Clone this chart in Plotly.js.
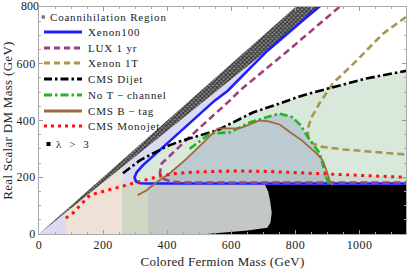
<!DOCTYPE html>
<html><head><meta charset="utf-8">
<script src="https://cdn.plot.ly/plotly-3.0.1.min.js"></script>
<style>
html,body{margin:0;padding:0;background:#fff}#chart{width:407px;height:269px}
.annotation-text{letter-spacing:0.8px}
.xtitle,.ytitle{letter-spacing:0.3px}
.xtick text,.ytick text{letter-spacing:0.4px}
</style>
</head><body><div id="chart"></div>
<script>
// ---- data (GeV) ----
const coannX = [0, 800, 880, 0];
const coannY = [0, 800, 800, 0];

const xenon100X = [872, 800, 713, 650, 589, 548, 445, 380, 324, 305, 298, 302, 315, 340, 1145];
const xenon100Y = [800, 730, 646, 575, 505, 470, 365, 300, 242, 218, 200, 186, 179, 178, 178];

const luxX = [937, 875, 760, 626, 595, 492, 430, 383, 377, 386, 410, 450, 1145];
const luxY = [800, 740, 630, 505, 470, 365, 300, 249, 214, 196, 185, 181, 181];

const x1tX = [1145, 1072, 990, 916, 875, 850, 838, 840, 854, 880, 950, 1050, 1145];
const x1tY = [765, 705, 610, 530, 460, 410, 370, 340, 319, 308, 298, 288, 280];

const dijetX = [262, 293, 315, 400, 449, 555, 667, 751, 813, 912, 1021, 1145];
const dijetY = [214, 242, 260, 310, 330, 365, 428, 460, 485, 516, 548, 575];

const noTX = [470, 492, 533, 595, 657, 729, 751, 790, 815, 840, 876, 896, 906];
const noTY = [300, 319, 354, 358, 393, 418, 424, 412, 385, 340, 284, 200, 172];

const btagX = [308, 336, 370, 408, 460, 511, 558, 626, 688, 713, 751, 776, 820, 866, 885, 898, 906, 916];
const btagY = [137, 154, 185, 214, 265, 319, 372, 372, 400, 398, 386, 365, 330, 284, 260, 220, 189, 172];

const monoX = [84, 106, 159, 212, 252, 305, 330, 380, 430, 500, 600, 700, 800, 900, 1000, 1145];
const monoY = [56, 74, 137, 154, 165, 182, 190, 205, 214, 219, 222, 221, 216, 210, 205, 200];

const lamX = [523, 650, 712, 722, 726, 722, 715, 705, 1145, 1145];
const lamY = [0, 12, 22, 40, 74, 110, 150, 174, 174, 0];

// vertical bands (lower-bound regions)
const bandEdges = [84, 259, 340, 730];
const floorY = 178;
const xMax = 1145, yMax = 800;

const xTicks = [0, 200, 400, 600, 800, 1000];
const yTicks = [0, 200, 400, 600, 800];

const legendLabels = ["Coannihilation Region", "Xenon100", "LUX 1 yr", "Xenon 1T", "CMS Dijet",
  "No T\u2009\u2212\u2009channel", "CMS B\u2009\u2212\u2009tag", "CMS Monojet", "\u03bb  >  3"];

// ---- styles ----
const C = {
  lav: '#dadaf0', beige: '#ede2d5', olive: '#d0d7c3', gray: '#c4c8c4', green: '#d8e9dc',
  btag: '#bccbd0', blue: '#1e1eff', lux: '#9e3f7e', x1t: '#a8964c', dijet: '#000000',
  noT: '#22b422', brown: '#9c6a3c', red: '#ff1010'
};
const FONT = 'Liberation Serif';

const traces = [];
function poly(x, y, color, extra) {
  traces.push(Object.assign({x: x, y: y, mode: 'lines', fill: 'toself', fillcolor: color,
    line: {width: 0, color: color}, hoverinfo: 'skip', showlegend: false}, extra || {}));
}
function line(x, y, color, width, dash) {
  traces.push({x: x, y: y, mode: 'lines', line: {color: color, width: width, dash: dash},
    hoverinfo: 'skip', showlegend: false});
}

// dijet (light green) region
poly(dijetX.concat([xMax, dijetX[0]]), dijetY.concat([floorY, floorY]), C.green);
// Xenon100 excluded (lavender): between diagonal and blue line
poly([0, yMax].concat(xenon100X, [xMax, 0]), [0, yMax].concat(xenon100Y, [0, 0]), C.lav);
// beige band
poly([bandEdges[0], bandEdges[0], bandEdges[1], bandEdges[1]], [0, bandEdges[0], bandEdges[1], 0], C.beige);
// olive band
poly([bandEdges[1], bandEdges[1], bandEdges[2], bandEdges[2]], [0, floorY, floorY, 0], C.olive);
// gray band
poly([bandEdges[2], bandEdges[2], bandEdges[3], bandEdges[3]], [0, floorY, floorY, 0], C.gray);
// B-tag / no-T-channel excluded region (envelope)
(function () {
  const ex = [], ey = [];
  for (let i = 0; i < btagX.length; i++) if (btagX[i] <= 705 && btagY[i] >= floorY) { ex.push(btagX[i]); ey.push(btagY[i]); }
  for (let i = 0; i < noTX.length; i++) if (noTX[i] >= 715) { ex.push(noTX[i]); ey.push(noTY[i]); }
  poly([ex[0]].concat(ex), [floorY].concat(ey), C.btag);
})();
// monojet tint
(function () {
  const mx = [], my = [];
  for (let i = 0; i < monoX.length; i++) if (monoX[i] >= 300) { mx.push(monoX[i]); my.push(monoY[i]); }
  poly(mx.concat([xMax, mx[0]]), my.concat([floorY, floorY]), 'rgba(90,110,100,0.10)');
})();
// lambda > 3
poly(lamX, lamY, '#000000');
// coannihilation band
poly(coannX, coannY, '#606060', {fillpattern: {shape: 'x', size: 3, solidity: 0.5, fgcolor: '#2a2a2a', bgcolor: '#8a8a8a'}});

// curves
line(xenon100X, xenon100Y, C.blue, 2.6, 'solid');
line(luxX, luxY, C.lux, 2.6, '7px,4px');
line(x1tX, x1tY, C.x1t, 2.6, '7px,4px');
line(dijetX, dijetY, C.dijet, 2.6, '9px,3px,2.5px,3px');
line(noTX, noTY, C.noT, 2.6, '8px,3px,2.5px,3px');
line(btagX, btagY, C.brown, 1.8, 'solid');
line(monoX, monoY, C.red, 3, '3px,4.5px');

// top y tick label drawn as an unclipped text mark at the axis corner
const yTopTick = yTicks[yTicks.length - 1];
traces.push({x: [0], y: [yTopTick], mode: 'text', text: [String(yTopTick)], textposition: 'middle left',
  cliponaxis: false, textfont: {family: FONT, size: 12, color: '#222'}, hoverinfo: 'skip', showlegend: false});

// ---- manual legend ----
const L = 39, R = 406, T = 7, B = 234;
const px = X => (X - L) / (R - L), py = Y => (B - Y) / (B - T);
const legY = [17, 32, 48, 63, 79, 95, 111, 126, 144];
const legStyle = [null, [C.blue, 3, 'solid'], [C.lux, 3, '6px,4px'], [C.x1t, 3, '6px,4px'],
  [C.dijet, 3, '8px,3px,2.5px,3px'], [C.noT, 3, '8px,3px,2.5px,3px'], [C.brown, 3, 'solid'],
  [C.red, 3, '3px,4px'], null];
const shapes = [], annotations = [];
legY.forEach((yy, i) => {
  let tx = 86;
  if (legStyle[i]) {
    const s = legStyle[i];
    shapes.push({type: 'line', xref: 'paper', yref: 'paper', x0: px(44), x1: px(82), y0: py(yy), y1: py(yy),
      line: {color: s[0], width: s[1], dash: s[2]}, layer: 'above'});
  } else if (i === 0) {
    shapes.push({type: 'rect', xref: 'paper', yref: 'paper', x0: px(41.5), x1: px(45), y0: py(yy + 1.7), y1: py(yy - 1.7),
      fillcolor: '#777', line: {width: 0}, layer: 'above'});
    tx = 48;
  } else {
    shapes.push({type: 'rect', xref: 'paper', yref: 'paper', x0: px(46.5), x1: px(50.5), y0: py(yy + 2), y1: py(yy - 2),
      fillcolor: '#000', line: {width: 0}, layer: 'above'});
    tx = 54;
  }
  annotations.push({xref: 'paper', yref: 'paper', x: px(tx), y: py(yy), xanchor: 'left', yanchor: 'middle',
    text: legendLabels[i], showarrow: false, font: {family: FONT, size: 11, color: '#222'}});
});

const axisCommon = {
  ticks: 'inside', ticklen: 4, tickcolor: '#999', tickwidth: 1, showline: true, linecolor: '#aaa',
  linewidth: 1, mirror: 'ticks', showgrid: false, zeroline: false, automargin: false,
  ticklabeloverflow: 'allow',
  tickfont: {family: FONT, size: 12, color: '#222'},
  minor: {ticks: 'inside', ticklen: 2, tickcolor: '#aaa', showgrid: false}
};
const layout = {
  width: 407, height: 269, margin: {l: 39, r: 1, t: 7, b: 35},
  paper_bgcolor: '#fff', plot_bgcolor: '#fff', showlegend: false,
  xaxis: Object.assign({}, axisCommon, {range: [0, xMax], tickvals: xTicks, ticktext: xTicks.map(String),
    minor: Object.assign({}, axisCommon.minor, {dtick: 50, tick0: 0}),
    title: {text: 'Colored Fermion Mass (GeV)', font: {family: FONT, size: 13, color: '#222'}, standoff: 6}}),
  yaxis: Object.assign({}, axisCommon, {range: [0, yMax], tickvals: yTicks,
    ticktext: yTicks.map(v => v === yTopTick ? '' : String(v)),
    minor: Object.assign({}, axisCommon.minor, {dtick: 50, tick0: 0}),
    title: {text: 'Real Scalar DM Mass (GeV)', font: {family: FONT, size: 13, color: '#222'}, standoff: 4}}),
  shapes: shapes, annotations: annotations
};
Plotly.newPlot('chart', traces, layout, {staticPlot: true, displayModeBar: false});
</script></body></html>
